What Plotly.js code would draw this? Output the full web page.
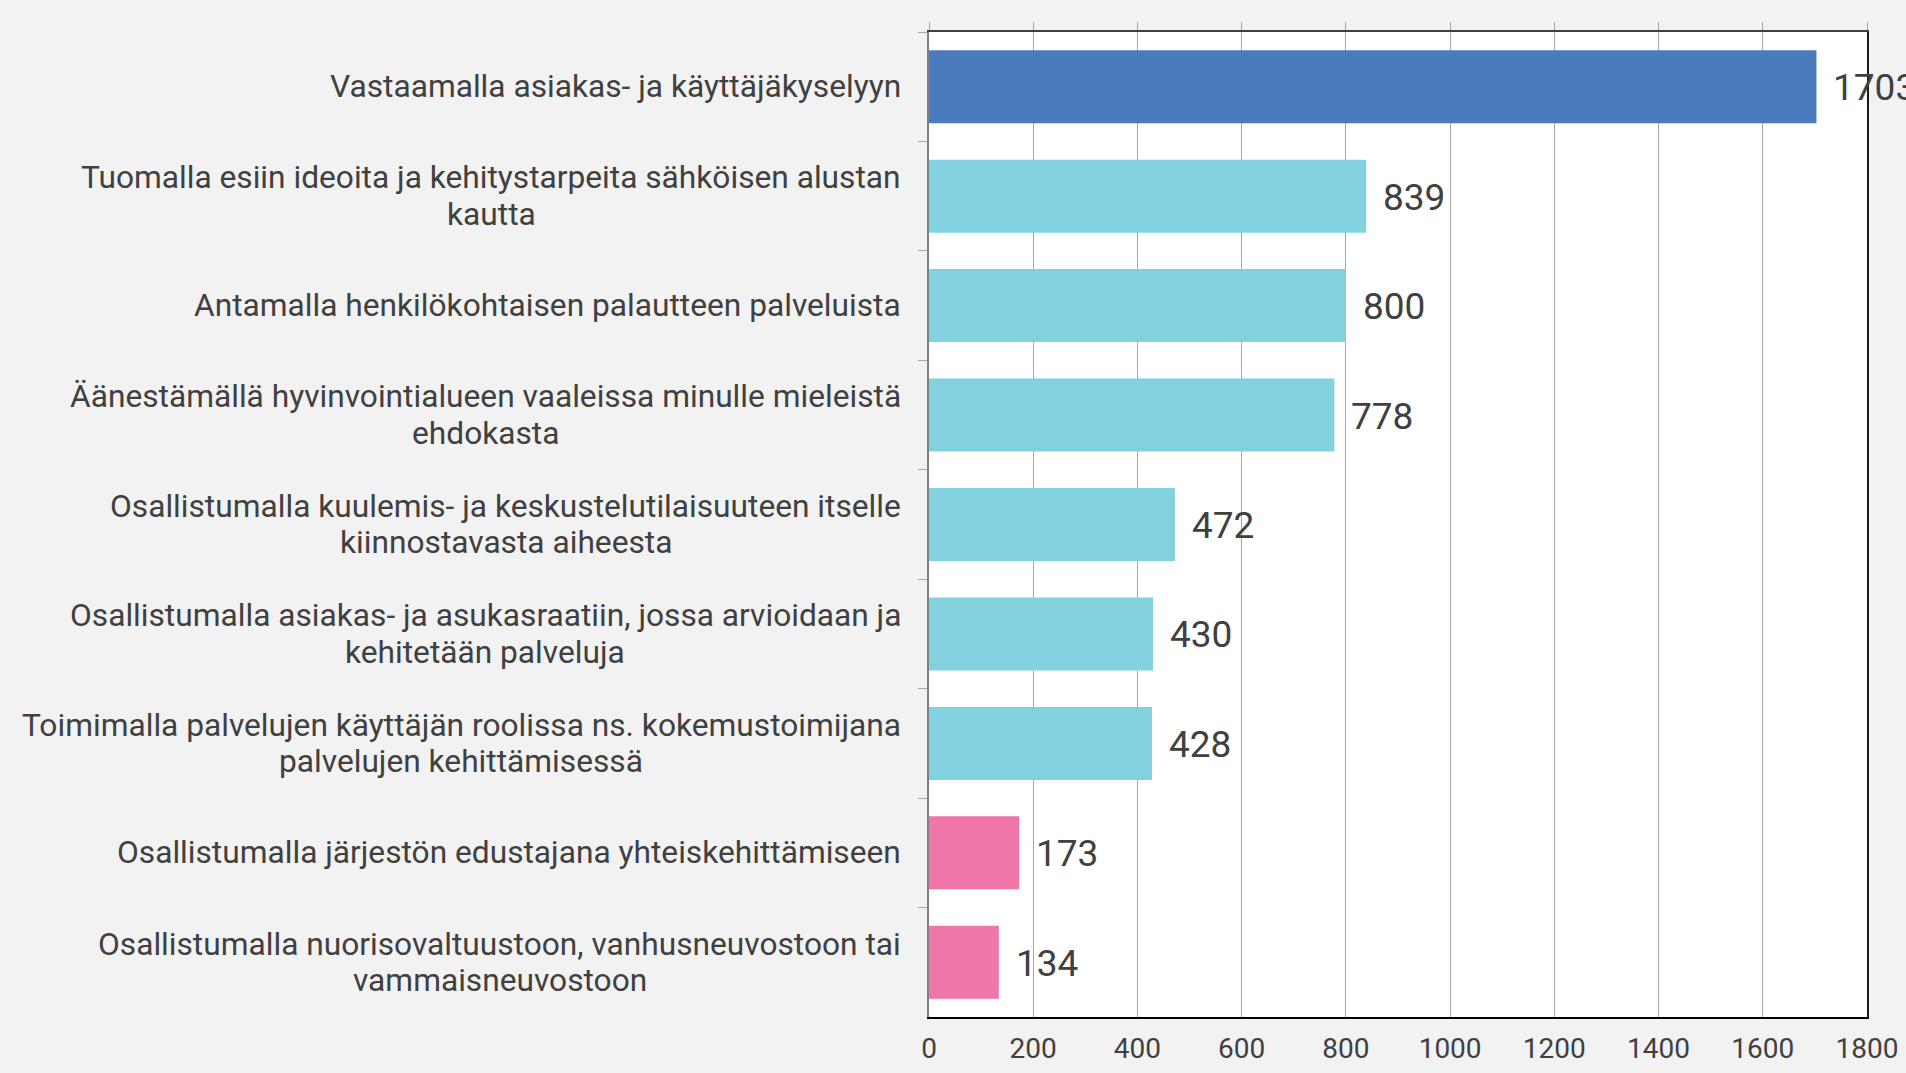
<!DOCTYPE html>
<html>
<head>
<meta charset="utf-8">
<script src="https://cdn.plot.ly/plotly-3.0.1.min.js"></script>
<style>
html,body{margin:0;padding:0;background:#f2f2f2;}
#chart{width:1906px;height:1073px;}
</style>
</head>
<body>
<div id="chart"></div>
<script>
// ---- data ----
const categories = [
  "Vastaamalla asiakas- ja käyttäjäkyselyyn",
  "Tuomalla esiin ideoita ja kehitystarpeita sähköisen alustan<br>kautta",
  "Antamalla henkilökohtaisen palautteen palveluista",
  "Äänestämällä hyvinvointialueen vaaleissa minulle mieleistä<br>ehdokasta",
  "Osallistumalla kuulemis- ja keskustelutilaisuuteen itselle<br>kiinnostavasta aiheesta",
  "Osallistumalla asiakas- ja asukasraatiin, jossa arvioidaan ja<br>kehitetään palveluja",
  "Toimimalla palvelujen käyttäjän roolissa ns. kokemustoimijana<br>palvelujen kehittämisessä",
  "Osallistumalla järjestön edustajana yhteiskehittämiseen",
  "Osallistumalla nuorisovaltuustoon, vanhusneuvostoon tai<br>vammaisneuvostoon"
];
const values = [1703, 839, 800, 778, 472, 430, 428, 173, 134];
const groups = ["top", "mid", "mid", "mid", "mid", "mid", "mid", "low", "low"];
const xTickValues = [0, 200, 400, 600, 800, 1000, 1200, 1400, 1600, 1800];

// ---- styles ----
const groupColors = {top: "#4a7bbd", mid: "#82d1df", low: "#f075a8"};
const FONT = "Roboto, 'Open Sans', sans-serif";
const TEXT = "#404040";
const LABEL_SIZE = 31.7;
const LINE_GAP = 36.5;
const LABEL_RIGHT_SHIFT = -26;

const ctx = document.createElement("canvas").getContext("2d");
ctx.font = LABEL_SIZE + "px Roboto";
const measure = s => ctx.measureText(s).width;

const bar = {
  type: "bar",
  orientation: "h",
  x: values,
  y: categories,
  marker: {color: groups.map(g => groupColors[g]), line: {width: 0}},
  hoverinfo: "x+y"
};
const ghost = {
  type: "scatter",
  mode: "none",
  x: values,
  y: categories,
  xaxis: "x2",
  yaxis: "y2",
  hoverinfo: "skip",
  showlegend: false
};

const annotations = [];
categories.forEach((c, i) => {
  const lines = c.split("<br>");
  const widths = lines.map(measure);
  const maxW = Math.max(...widths);
  const n = lines.length;
  lines.forEach((ln, k) => {
    annotations.push({
      xref: "paper", yref: "y", x: 0, y: c,
      xanchor: "right", yanchor: "middle", align: "center",
      xshift: LABEL_RIGHT_SHIFT - (maxW - widths[k]) / 2,
      yshift: ((n - 1) / 2 - k) * LINE_GAP,
      text: ln, showarrow: false,
      font: {family: FONT, size: LABEL_SIZE, color: TEXT}
    });
  });
  annotations.push({
    xref: "x", yref: "y", x: values[i], y: c,
    xanchor: "left", yanchor: "middle",
    xshift: 15, yshift: -1,
    text: String(values[i]), showarrow: false,
    font: {family: FONT, size: 37, color: TEXT}
  });
});

const layout = {
  width: 1906, height: 1073,
  paper_bgcolor: "#f2f2f2",
  plot_bgcolor: "#ffffff",
  margin: {l: 929, r: 39, t: 32, b: 56, pad: 0},
  showlegend: false,
  bargap: 0.333,
  font: {family: FONT, color: TEXT},
  xaxis: {
    range: [0, 1800],
    tickvals: xTickValues,
    ticktext: xTickValues.map(String),
    showgrid: true, gridcolor: "#a6a6a6", gridwidth: 1,
    zeroline: false,
    showline: true, linecolor: "#000000", linewidth: 2,
    ticks: "", ticklabelstandoff: 5,
    tickfont: {family: FONT, size: 28, color: TEXT},
    fixedrange: true
  },
  xaxis2: {
    overlaying: "x", matches: "x", side: "top", anchor: "y2",
    range: [0, 1800],
    tickvals: xTickValues,
    showgrid: false, zeroline: false,
    showline: true, linecolor: "#404040", linewidth: 2,
    ticks: "outside", ticklen: 8, tickcolor: "#a6a6a6", tickwidth: 1,
    showticklabels: false
  },
  yaxis: {
    type: "category",
    categoryorder: "array", categoryarray: categories,
    autorange: "reversed",
    showgrid: false, zeroline: false,
    showline: true, linecolor: "#808080", linewidth: 2,
    ticks: "outside", tickson: "boundaries", ticklen: 9, tickcolor: "#a6a6a6", tickwidth: 1,
    showticklabels: false
  },
  yaxis2: {
    type: "category",
    overlaying: "y", matches: "y", side: "right", anchor: "x2",
    categoryorder: "array", categoryarray: categories,
    showgrid: false, zeroline: false,
    showline: true, linecolor: "#1a1a1a", linewidth: 2,
    ticks: "", showticklabels: false
  },
  annotations: annotations
};

Plotly.newPlot("chart", [bar, ghost], layout, {displayModeBar: false, staticPlot: true});
</script>
</body>
</html>
